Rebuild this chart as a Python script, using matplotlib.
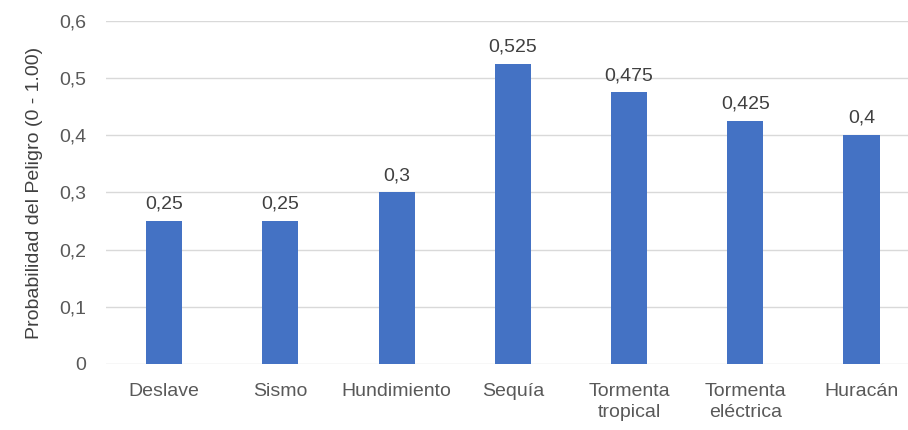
import matplotlib
matplotlib.use('Agg')
import matplotlib.pyplot as plt
from matplotlib.ticker import FuncFormatter

plt.rcParams['font.family'] = ['Liberation Sans Narrow', 'Liberation Sans', 'DejaVu Sans']

categories = ['Deslave', 'Sismo', 'Hundimiento', 'Sequía',
              'Tormenta\ntropical', 'Tormenta\neléctrica', 'Huracán']
values = [0.25, 0.25, 0.3, 0.525, 0.475, 0.425, 0.4]
value_labels = ['0,25', '0,25', '0,3', '0,525', '0,475', '0,425', '0,4']

text_color = '#595959'

fig = plt.figure(figsize=(9.08, 4.30), dpi=100)
ax = fig.add_axes([0.1167, 0.1535, 0.8833, 0.7977])

x = range(len(categories))
bars = ax.bar(x, values, width=0.31, color='#4472C4', zorder=3)

for b, lab in zip(bars, value_labels):
    ax.annotate(lab, (b.get_x() + b.get_width() / 2, b.get_height()),
                xytext=(0, 6), textcoords='offset points',
                ha='center', va='bottom', fontsize=14, color='#404040')

ax.set_xlim(-0.5, 6.4)
ax.set_ylim(0, 0.6)
ax.set_yticks([0, 0.1, 0.2, 0.3, 0.4, 0.5, 0.6])
ax.yaxis.set_major_formatter(FuncFormatter(
    lambda v, p: '0' if v == 0 else f'{v:.1f}'.replace('.', ',')))
ax.set_xticks(list(x))
ax.set_xticklabels(categories, linespacing=1.25)

ax.grid(axis='y', color='#D9D9D9', linewidth=1, zorder=0)
for s in ax.spines.values():
    s.set_visible(False)
ax.tick_params(axis='both', length=0, labelsize=14, colors=text_color)
ax.tick_params(axis='y', pad=14)
ax.tick_params(axis='x', pad=14)
ax.set_ylabel('Probabilidad del Peligro (0 - 1.00)', fontsize=14, color='#404040', labelpad=12)

fig.savefig('out.png', dpi=100)
